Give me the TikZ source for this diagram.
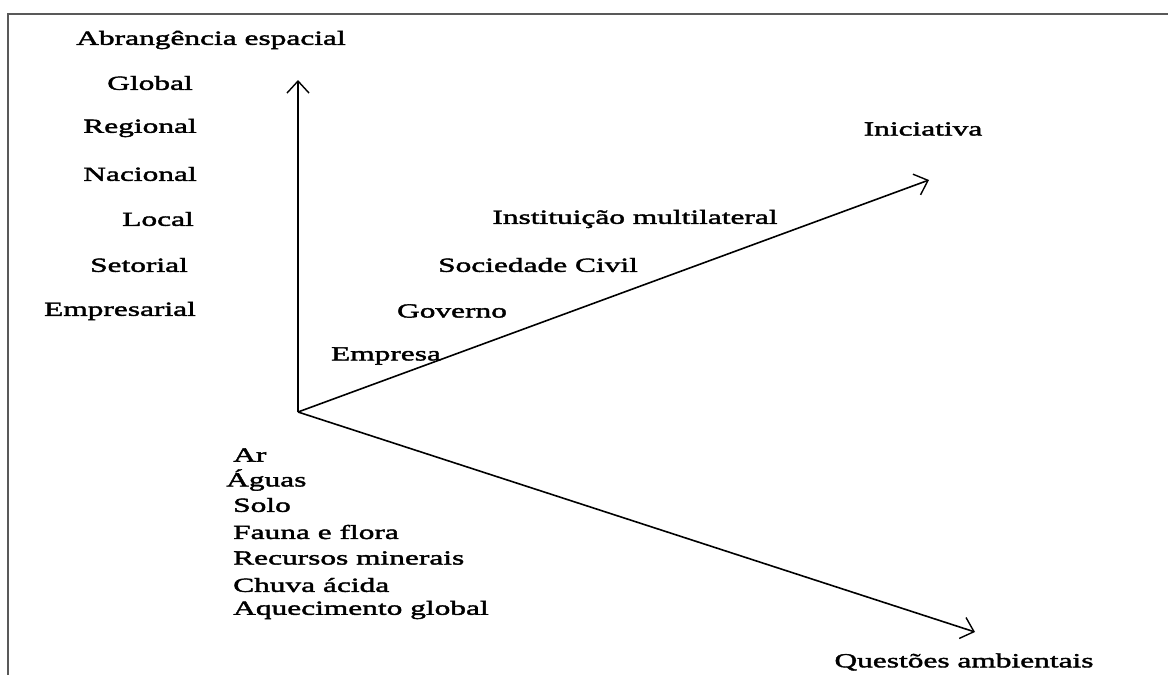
\documentclass[tikz,border=0pt]{standalone}
\usepackage{fontspec}
\setmainfont{Liberation Serif}[FakeStretch=1.57,FakeBold=2]
\usetikzlibrary{arrows.meta}
\tikzset{
  lbl/.style={inner sep=0pt, font=\fontsize{20}{24}\selectfont},
  axis/.style={line width=1.6pt, -{Straight Barb[length=12pt,width=22pt,line width=1.4pt]}},
  frame/.style={line width=1.8pt, draw=black!65}
}
\begin{document}
\begin{tikzpicture}[x=1pt,y=-1pt]
\useasboundingbox (0,0) rectangle (1168,675);
\draw[frame] (8,675) -- (8,14) -- (1168,14);
\coordinate (O) at (298,412);
\coordinate (up) at (298,80);
\coordinate (ini) at (929,180);
\coordinate (qa) at (975,632);
\draw[axis, line width=2.6pt] (O) -- (up);
\draw[axis] (O) -- (ini);
\draw[axis] (O) -- (qa);
\node[lbl] (abr) at (211,40) {Abrangência espacial};
\node[lbl] (glo) at (150,83) {Global};
\node[lbl] (reg) at (140,128) {Regional};
\node[lbl] (nac) at (140,174) {Nacional};
\node[lbl] (loc) at (158,219) {Local};
\node[lbl] (set) at (139,265) {Setorial};
\node[lbl] (emp) at (120,311) {Empresarial};
\node[lbl] (inic) at (923,129) {Iniciativa};
\node[lbl] (inst) at (635,219) {Instituição multilateral};
\node[lbl] (soc) at (538,265) {Sociedade Civil};
\node[lbl] (gov) at (452,311) {Governo};
\node[lbl] (empr) at (386,356) {Empresa};
\node[lbl, anchor=west] (ar) at (233,455) {Ar};
\node[lbl, anchor=west] (ag) at (226,480) {Águas};
\node[lbl, anchor=west] (solo) at (233,505) {Solo};
\node[lbl, anchor=west] (ff) at (233,532) {Fauna e flora};
\node[lbl, anchor=west] (rm) at (233,558) {Recursos minerais};
\node[lbl, anchor=west] (ca) at (233,585) {Chuva ácida};
\node[lbl, anchor=west] (aq) at (233,610) {Aquecimento global};
\node[lbl] (qamb) at (964,662) {Questões ambientais};
\end{tikzpicture}
\end{document}
